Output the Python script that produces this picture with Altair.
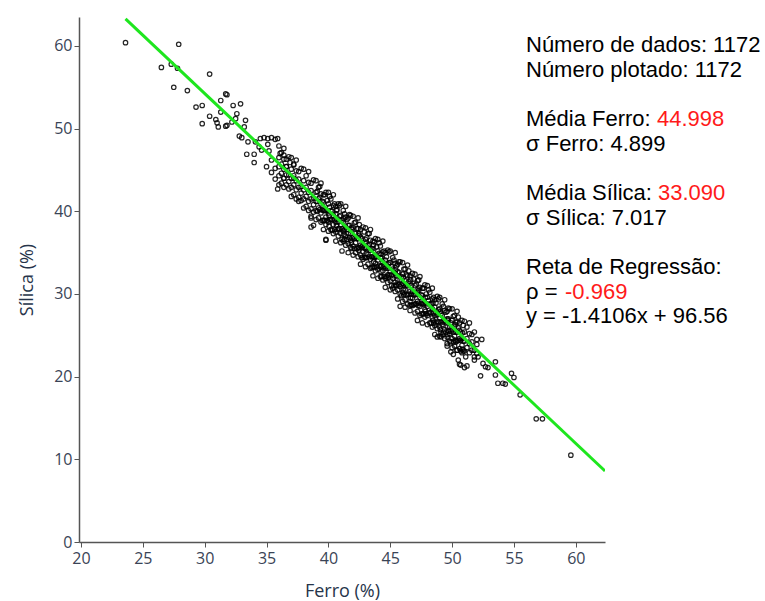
import altair as alt
import pandas as pd

# ---------------- data ----------------
ferro_ticks = [20, 25, 30, 35, 40, 45, 50, 55, 60]
silica_ticks = [0, 10, 20, 30, 40, 50, 60]

# sparse points, upper-left tail (Ferro, Sílica)
upper_tail = [
    (23.6, 60.4), (27.9, 60.2), (26.5, 57.4), (27.3, 57.8), (27.8, 57.3), (27.5, 55.0),
    (28.6, 54.6), (30.4, 56.6), (29.3, 52.6), (29.8, 52.8), (29.8, 50.6), (30.4, 51.5),
    (31.3, 53.4), (31.7, 54.2), (31.8, 54.1), (31.3, 52.0), (32.3, 52.8), (32.9, 53.0),
    (30.9, 51.1), (31.0, 50.7), (31.1, 50.2), (31.7, 50.3), (31.8, 50.4), (32.2, 50.8),
    (32.6, 51.8), (32.5, 51.2), (33.3, 51.0), (33.2, 50.2), (32.8, 49.1), (33.0, 48.9),
    (33.5, 48.4), (33.4, 46.9), (34.0, 46.9), (34.0, 45.9), (34.1, 48.4), (34.5, 48.8),
    (34.8, 48.9), (35.1, 48.8), (35.4, 48.9), (35.7, 48.7), (35.9, 48.8), (34.4, 47.8),
    (35.1, 48.1), (35.0, 45.4), (35.4, 44.7), (35.7, 45.2), (35.7, 43.9), (35.9, 42.7),
    (36.4, 44.0), (37.6, 41.2), (35.4, 46.2), (36.1, 47.0), (36.4, 46.8), (36.9, 45.9),
    (37.2, 45.6), (37.2, 44.0), (36.6, 45.4), (38.6, 38.1), (38.8, 38.3), (39.8, 36.6),
    (41.1, 35.2), (38.6, 39.4), (39.8, 36.5), (34.6, 47.4), (35.2, 47.3),
]

# sparse points, lower-right tail (Ferro, Sílica)
lower_tail = [
    (59.6, 10.5), (56.8, 14.9), (57.3, 14.9), (55.5, 17.8), (54.8, 20.4), (55.0, 19.9),
    (53.7, 19.2), (54.1, 19.2), (54.3, 19.1), (53.5, 20.2), (53.5, 21.8), (52.3, 20.1),
    (52.4, 24.5), (52.9, 21.1), (52.7, 21.2), (52.5, 21.6), (51.2, 21.3), (50.6, 21.5),
    (50.1, 22.7), (50.5, 22.0), (51.8, 22.0), (52.1, 22.4), (45.8, 28.5), (46.2, 28.4),
    (46.6, 28.6), (47.2, 26.8), (49.1, 24.8), (49.6, 24.0), (50.4, 23.2), (51.1, 22.4),
    (48.8, 24.8), (49.9, 23.0), (50.7, 21.4), (51.0, 21.1),
]

# dense band: Sílica values read per Ferro column
dense_a = {
    36.0: [47.9, 46.5, 45.4, 44.3, 43.2], 36.2: [47.1, 45.7, 44.6, 43.4],
    36.4: [47.6, 46.3, 45.1, 44.0, 42.9], 36.6: [46.3, 45.4, 44.4, 43.2],
    36.8: [46.6, 44.4, 43.6, 42.7], 37.0: [46.5, 45.1, 44.0, 42.9, 41.8],
    37.2: [45.7, 44.3, 43.2, 42.0], 37.4: [46.2, 44.9, 43.7, 42.6, 41.5],
    37.6: [44.8, 43.9, 42.9, 41.7], 37.8: [45.2, 43.0, 42.2, 41.3],
    38.0: [45.1, 43.7, 42.6, 41.5, 40.4], 38.2: [44.3, 42.9, 41.8, 40.6],
    38.4: [44.8, 43.5, 42.3, 41.2, 40.1], 38.6: [43.4, 42.5, 41.5, 40.3, 39.2],
    38.8: [43.8, 41.6, 40.8, 39.9], 39.0: [43.7, 42.3, 41.2, 40.1, 39.0],
    39.2: [42.9, 41.5, 40.4, 39.2], 39.4: [43.4, 42.1, 40.9, 39.8, 38.7],
    39.6: [42.0, 41.1, 40.1, 38.9, 37.8], 39.8: [42.3, 40.1, 39.3, 38.4],
    40.0: [42.3, 40.9, 39.8, 38.7, 37.6], 40.2: [41.5, 40.1, 39.0, 37.8],
    40.4: [42.0, 40.7, 39.5, 38.4, 37.3], 40.6: [40.6, 39.7, 38.7, 37.5, 36.4],
    40.8: [40.9, 38.7, 37.9, 37.0], 41.0: [40.9, 39.5, 38.4, 37.3, 36.2],
    41.2: [40.1, 38.7, 37.6, 36.4], 41.4: [40.6, 39.3, 38.1, 37.0, 35.9],
    41.6: [39.2, 38.3, 37.3, 36.1, 35.0], 41.8: [39.5, 37.3, 36.5, 35.6],
    42.0: [39.4, 38.0, 36.9, 35.8, 34.7], 42.2: [38.7, 37.3, 36.2, 35.0],
    42.4: [39.2, 37.9, 36.7, 35.6, 34.5], 42.6: [37.8, 36.9, 35.9, 34.7, 33.6],
    42.8: [38.1, 35.9, 35.1, 34.2], 43.0: [38.0, 36.6, 35.5, 34.4, 33.3],
    43.2: [37.3, 35.9, 34.8, 33.6], 43.4: [37.8, 36.5, 35.3, 34.2, 33.1],
    43.6: [36.4, 35.5, 34.5, 33.3, 32.2], 43.8: [36.7, 34.5, 33.7, 32.8],
    44.0: [36.6, 35.2, 34.1, 33.0, 31.9], 44.2: [35.8, 34.4, 33.3, 32.1],
    44.4: [36.4, 35.1, 33.9, 32.8, 31.7], 44.6: [35.0, 34.1, 33.1, 31.9, 30.8],
    44.8: [35.3, 33.1, 32.3, 31.4], 45.0: [35.2, 33.8, 32.7, 31.6, 30.5],
    45.2: [34.4, 33.0, 31.9, 30.7], 45.4: [35.0, 33.7, 32.5, 31.4, 30.3],
    45.6: [33.6, 32.7, 31.7, 30.5, 29.4], 45.8: [33.9, 31.7, 30.9, 30.0],
    46.0: [33.8, 32.4, 31.3, 30.2, 29.1], 46.2: [33.0, 31.6, 30.5, 29.3],
    46.4: [33.5, 32.2, 31.0, 29.9, 28.8], 46.6: [32.2, 31.3, 30.3, 29.1, 28.0],
    46.8: [32.5, 30.3, 29.5, 28.6], 47.0: [32.4, 31.0, 29.9, 28.8, 27.7],
    47.2: [31.6, 30.2, 29.1, 27.9], 47.4: [32.1, 30.8, 29.6, 28.5, 27.4],
    47.6: [30.7, 29.8, 28.8, 27.6, 26.5], 47.8: [31.1, 28.9, 28.1, 27.2],
    48.0: [31.0, 29.6, 28.5, 27.4, 26.3], 48.2: [30.2, 28.8, 27.7, 26.5],
    48.4: [30.7, 29.4, 28.2, 27.1, 26.0], 48.6: [29.3, 28.4, 27.4, 26.2, 25.1],
    48.8: [29.7, 27.5, 26.7, 25.8], 49.0: [29.6, 28.2, 27.1, 26.0, 24.9],
    49.2: [28.8, 27.4, 26.3, 25.1], 49.4: [29.3, 28.0, 26.8, 25.7, 24.6],
    49.6: [27.9, 27.0, 26.0, 24.8, 23.7], 49.8: [28.2, 26.0, 25.2, 24.3],
    50.0: [28.2, 26.8, 25.7, 24.6, 23.5], 50.2: [27.4, 26.0, 24.9, 23.7],
    50.4: [27.9, 26.6, 25.4, 24.3, 23.2], 50.6: [26.5, 25.6, 24.6, 23.4],
    50.8: [26.8, 24.6, 23.8, 22.9], 51.0: [26.7, 25.4, 24.3, 23.1],
    51.2: [26.0, 24.6, 23.5], 51.4: [26.5, 25.2, 24.0, 22.9],
    51.6: [25.1, 24.2, 23.2], 51.8: [25.4, 23.2, 22.4], 52.0: [24.5, 23.9, 22.8],
}
dense_b = {
    39.1: [42.4, 41.2, 40.0], 39.3: [43.0, 41.7, 40.2], 39.5: [41.2, 40.2, 38.9],
    39.7: [42.0, 40.1, 38.9], 39.9: [41.3, 40.1, 38.9], 40.1: [41.8, 40.5, 39.0],
    40.3: [40.0, 39.0, 37.7], 40.5: [40.9, 39.0, 37.8], 40.7: [40.2, 39.0, 37.8],
    40.9: [40.7, 39.4, 37.9], 41.1: [38.9, 37.9, 36.6], 41.3: [39.7, 37.8, 36.6],
    41.5: [39.0, 37.8, 36.6], 41.7: [39.6, 38.3, 36.8], 41.9: [37.8, 36.8, 35.5],
    42.1: [38.6, 36.7, 35.5], 42.3: [37.9, 36.7, 35.5], 42.5: [38.4, 37.1, 35.6],
    42.7: [36.7, 35.7, 34.4], 42.9: [37.5, 35.6, 34.4], 43.1: [36.8, 35.6, 34.4],
    43.3: [37.3, 36.0, 34.5], 43.5: [35.5, 34.5, 33.2], 43.7: [36.3, 34.4, 33.2],
    43.9: [35.7, 34.5, 33.3], 44.1: [36.2, 34.9, 33.4], 44.3: [34.4, 33.4, 32.1],
    44.5: [35.2, 33.3, 32.1], 44.7: [34.5, 33.3, 32.1], 44.9: [35.1, 33.8, 32.3],
    45.1: [33.3, 32.3, 31.0], 45.3: [34.1, 32.2, 31.0], 45.5: [33.4, 32.2, 31.0],
    45.7: [33.9, 32.6, 31.1], 45.9: [32.1, 31.1, 29.8], 46.1: [33.0, 31.1, 29.9],
    46.3: [32.3, 31.1, 29.9], 46.5: [32.8, 31.5, 30.0], 46.7: [31.0, 30.0, 28.7],
    46.9: [31.8, 29.9, 28.7], 47.1: [31.2, 30.0, 28.8], 47.3: [31.7, 30.4, 28.9],
    47.5: [29.9, 28.9, 27.6], 47.7: [30.7, 28.8, 27.6], 47.9: [30.0, 28.8, 27.6],
    48.1: [30.5, 29.2, 27.7], 48.3: [28.8, 27.8, 26.5], 48.5: [29.6, 27.7, 26.5],
    48.7: [28.9, 27.7, 26.5], 48.9: [29.4, 28.1, 26.6], 49.1: [27.6, 26.6, 25.3],
    49.3: [28.5, 26.6, 25.4], 49.5: [27.8, 26.6, 25.4], 49.7: [28.3, 27.0, 25.5],
    49.9: [26.5, 25.5, 24.2], 50.1: [27.3, 25.4, 24.2], 50.3: [26.6, 25.4, 24.2],
    50.5: [27.2, 25.9, 24.4], 50.7: [25.4, 24.4, 23.1], 50.9: [26.2, 24.3, 23.1],
}
# extra dense core points read in the darkest part of the band
dense_c = {
    40.05: [39.5, 38.2], 40.65: [38.3, 40.1], 41.25: [37.2, 39.1], 41.85: [36.2, 38.0],
    42.45: [35.3, 37.3], 43.05: [34.9, 36.2], 43.65: [33.9, 35.9], 44.25: [32.7, 34.8],
    44.85: [32.0, 33.6], 45.45: [31.1, 32.9], 46.05: [30.5, 32.0], 46.65: [29.5, 31.7],
    47.25: [28.6, 30.6], 47.85: [27.9, 29.6], 48.45: [26.8, 28.9], 49.05: [25.7, 27.9],
    49.65: [25.1, 26.8], 50.25: [24.4, 26.3], 50.85: [23.3, 25.3],
}

# regression line end points (y = -1.4106x + 96.56)
reg_ferro = [23.6, 62.36]
reg_silica = [63.27, 8.59]

# annotation texts
info_lines = [
    "Número de dados: 1172",
    "Número plotado: 1172",
    "Média Ferro: ",
    "σ Ferro: 4.899",
    "Média Sílica: ",
    "σ Sílica: 7.017",
    "Reta de Regressão:",
    "ρ = ",
    "y = -1.4106x + 96.56",
]
info_red = {2: "44.998", 4: "33.090", 7: "-0.969"}

# ---------------- build tables ----------------
rows = list(upper_tail) + list(lower_tail)
for d in (dense_a, dense_b, dense_c):
    for fx, ys in d.items():
        for sy in ys:
            rows.append((fx, sy))
pts = pd.DataFrame(rows, columns=["ferro", "silica"])
reg = pd.DataFrame({"ferro": reg_ferro, "silica": reg_silica})

W, H = 526, 525
x_scale = alt.Scale(domain=[19.84, 62.36], nice=False, zero=False)
y_scale = alt.Scale(domain=[0, 63.5], nice=False, zero=False)

LABEL_COLOR = "#3a4456"
TITLE_COLOR = "#26344a"

x_axis = alt.Axis(values=ferro_ticks, title="Ferro (%)", grid=False,
                  labelFont="Open Sans", labelFontSize=16, labelColor=LABEL_COLOR,
                  titleFont="Open Sans", titleFontSize=18, titleColor=TITLE_COLOR,
                  titleFontWeight="normal", titleBaseline="alphabetic", titleY=54,
                  domainColor="#555555", tickColor="#555555", tickSize=5,
                  labelPadding=3, domainWidth=1.5)
y_axis = alt.Axis(values=silica_ticks, title="Sílica (%)", grid=False,
                  labelFont="Open Sans", labelFontSize=16, labelColor=LABEL_COLOR,
                  titleFont="Open Sans", titleFontSize=18, titleColor=TITLE_COLOR,
                  titleFontWeight="normal", titleBaseline="alphabetic", titleX=-47,
                  domainColor="#555555", tickColor="#555555", tickSize=5,
                  labelPadding=2, domainWidth=1.5)

points = alt.Chart(pts).mark_point(
    shape="circle", filled=False, size=20, strokeWidth=1.2, color="black", opacity=0.85
).encode(
    x=alt.X("ferro:Q", scale=x_scale, axis=x_axis),
    y=alt.Y("silica:Q", scale=y_scale, axis=y_axis),
)

line = alt.Chart(reg).mark_line(color="#1ee61e", strokeWidth=3, clip=True).encode(
    x=alt.X("ferro:Q", scale=x_scale),
    y=alt.Y("silica:Q", scale=y_scale),
)

baselines = [35.3, 60.0, 109.0, 133.7, 183.0, 207.7, 257.0, 281.7, 306.3]
red_x = {2: 578, 4: 579, 7: 486}
text_layers = []
for i, t in enumerate(info_lines):
    text_layers.append(
        alt.Chart(pd.DataFrame({"t": [t]})).mark_text(
            align="left", baseline="alphabetic", font="Liberation Sans",
            fontSize=22, color="black"
        ).encode(x=alt.value(447), y=alt.value(baselines[i]), text="t:N")
    )
for i, t in info_red.items():
    text_layers.append(
        alt.Chart(pd.DataFrame({"t": [t]})).mark_text(
            align="left", baseline="alphabetic", font="Liberation Sans",
            fontSize=22, color="#ff1a1a"
        ).encode(x=alt.value(red_x[i]), y=alt.value(baselines[i]), text="t:N")
    )

chart = alt.layer(points, line, *text_layers).properties(
    width=W, height=H,
    autosize=alt.AutoSizeParams(type="none"),
    padding={"left": 79, "top": 17, "right": 160, "bottom": 59},
    background="white",
).configure_view(stroke=None)

chart.save("out.html", embed_options={"renderer": "svg", "actions": False})
